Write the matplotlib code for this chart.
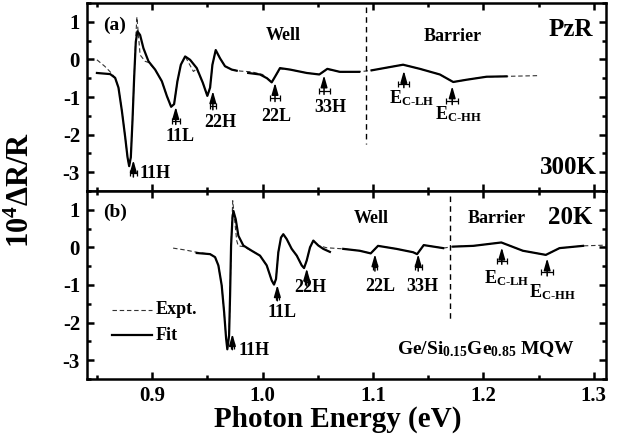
import matplotlib
matplotlib.use("Agg")
import matplotlib.pyplot as plt
from matplotlib.ticker import MultipleLocator

plt.rcParams['font.family'] = 'Liberation Serif'
plt.rcParams['font.weight'] = 'bold'
plt.rcParams['mathtext.fontset'] = 'custom'
plt.rcParams['mathtext.rm'] = 'Liberation Serif:bold'
plt.rcParams['mathtext.it'] = 'Liberation Serif:bold'
plt.rcParams['mathtext.bf'] = 'Liberation Serif:bold'
plt.rcParams['axes.unicode_minus'] = False

# ---- panel (a) 300K ----
fit_a_x = [[0.850, 0.862, 0.8665, 0.8695, 0.8726, 0.8756, 0.8777, 0.8792, 0.8807, 0.8822, 0.8837,
            0.8852, 0.8867, 0.8891, 0.8921, 0.8967, 0.9027, 0.9088, 0.9133, 0.9172, 0.9199, 0.9229,
            0.926, 0.9299, 0.9344, 0.9404, 0.9459, 0.950, 0.9525, 0.9546, 0.9576, 0.9615, 0.966,
            0.9721, 0.9766],
           [0.987, 0.9977, 1.004, 1.0083, 1.0115, 1.0158, 1.025, 1.040, 1.0514, 1.0587, 1.070, 1.0876],
           [1.0988, 1.112, 1.1273, 1.1425, 1.1606, 1.1727, 1.1848, 1.2029, 1.221]]
fit_a_y = [[-0.36, -0.39, -0.49, -0.75, -1.37, -2.07, -2.6, -2.84, -2.6, -1.63, -0.49,
            0.47, 0.75, 0.65, 0.30, -0.05, -0.27, -0.58, -0.97, -1.26, -1.19, -0.58,
            -0.14, 0.08, -0.01, -0.23, -0.62, -0.97, -0.75, -0.14, 0.25, 0.03, -0.18,
            -0.27, -0.30],
           [-0.36, -0.40, -0.50, -0.61, -0.45, -0.23, -0.27, -0.36, -0.40, -0.25, -0.33, -0.33],
           [-0.29, -0.22, -0.14, -0.25, -0.40, -0.60, -0.54, -0.46, -0.45]]
exp_a_x = [0.850, 0.857, 0.862, 0.8665, 0.8695, 0.8726, 0.8756, 0.8777, 0.8792, 0.8807, 0.8822,
           0.8837, 0.8852, 0.8862, 0.8891, 0.8937, 0.8967, 0.9027, 0.9088, 0.9133, 0.9172, 0.9199,
           0.9229, 0.926, 0.9299, 0.9374, 0.9404, 0.9459, 0.950, 0.9525, 0.9546, 0.9576, 0.9615,
           0.966, 0.9721, 0.98, 0.99, 1.0, 1.0083, 1.0158, 1.025, 1.040, 1.0514, 1.0587, 1.070,
           1.09, 1.0988, 1.1273, 1.1425, 1.1606, 1.1727, 1.1848, 1.2029, 1.221, 1.251]
exp_a_y = [-0.01, -0.18, -0.33, -0.49, -0.75, -1.37, -2.07, -2.6, -2.84, -2.6, -1.63,
           -0.49, 0.6, 1.13, 0.12, -0.05, -0.08, -0.27, -0.58, -0.97, -1.26, -1.19,
           -0.58, -0.14, 0.08, -0.32, -0.25, -0.62, -0.97, -0.75, -0.14, 0.25, 0.03,
           -0.18, -0.27, -0.31, -0.33, -0.40, -0.60, -0.25, -0.27, -0.36, -0.40, -0.26, -0.33,
           -0.32, -0.29, -0.14, -0.25, -0.40, -0.60, -0.54, -0.46, -0.45, -0.43]

# markers: x, arrow tip y, error-bar y, x error
mk_a_x = [0.883, 0.9214, 0.955, 1.0113, 1.0557, 1.128, 1.1718]
mk_a_tip = [-2.68, -1.26, -0.84, -0.62, -0.42, -0.30, -0.71]
mk_a_err = [-3.03, -1.63, -1.24, -1.02, -0.83, -0.65, -1.10]
mk_a_dx = [0.003, 0.0035, 0.003, 0.0045, 0.005, 0.005, 0.0053]

# ---- panel (b) 20K ----
fit_b_x = [[0.9404, 0.9525, 0.957, 0.960, 0.963, 0.9652, 0.967, 0.9681, 0.9697, 0.9706, 0.9715,
            0.9727, 0.9736, 0.9757, 0.9781, 0.9826, 0.9902, 0.9977, 1.0038, 1.0083, 1.0104, 1.0122,
            1.0143, 1.0167, 1.0188, 1.0219, 1.0264, 1.031, 1.0355, 1.0376, 1.04, 1.043, 1.046,
            1.0505, 1.055, 1.061],
           [1.0731, 1.088, 1.098, 1.1046, 1.1213, 1.1364, 1.140, 1.146, 1.1636],
           [1.1727, 1.1908, 1.2163, 1.2358, 1.2566, 1.269, 1.2903]]
fit_b_y = [[-0.15, -0.18, -0.26, -0.48, -1.01, -1.72, -2.42, -2.71, -2.34, -1.28, 0.04,
            0.75, 0.97, 0.75, 0.31, 0.05, -0.09, -0.22, -0.48, -0.88, -0.99, -0.84,
            -0.13, 0.26, 0.35, 0.22, -0.04, -0.22, -0.48, -0.55, -0.35, 0.0, 0.18,
            0.05, -0.04, -0.12],
           [-0.04, -0.09, -0.16, 0.04, -0.04, -0.13, -0.18, 0.06, -0.02],
           [0.02, 0.04, 0.13, -0.09, -0.20, -0.02, 0.04]]
exp_b_x = [0.919, 0.930, 0.9404, 0.9525, 0.957, 0.960, 0.963, 0.9652, 0.967, 0.9681, 0.9697,
           0.9706, 0.9715, 0.973, 0.9766, 0.978, 0.9826, 0.9902, 0.9977, 1.0038, 1.0083, 1.0104,
           1.0122, 1.0143, 1.0167, 1.0188, 1.0219, 1.0264, 1.031, 1.0355, 1.0376, 1.04, 1.043,
           1.046, 1.0505, 1.058, 1.0731, 1.088, 1.098, 1.1046, 1.1213, 1.1364, 1.140, 1.146,
           1.1636, 1.1727, 1.1908, 1.2163, 1.2358, 1.2566, 1.269, 1.2903, 1.312]
exp_b_y = [-0.02, -0.07, -0.13, -0.18, -0.26, -0.48, -1.01, -1.72, -2.42, -2.71, -2.34,
           -1.28, 0.04, 1.24, 0.18, 0.04, 0.02, -0.09, -0.22, -0.48, -0.88, -0.99,
           -0.84, -0.13, 0.26, 0.35, 0.22, -0.04, -0.22, -0.48, -0.55, -0.35, 0.0,
           0.18, 0.05, -0.01, -0.04, -0.09, -0.16, 0.04, -0.04, -0.13, -0.18, 0.06,
           -0.02, 0.02, 0.04, 0.13, -0.09, -0.20, -0.02, 0.04, 0.06]

mk_b_x = [0.9727, 1.0134, 1.04, 1.1018, 1.141, 1.2167, 1.2578]
mk_b_tip = [-2.3, -1.0, -0.56, -0.18, -0.18, 0.0, -0.29]
mk_b_err = [-2.62, -1.32, -0.93, -0.53, -0.53, -0.35, -0.66]
mk_b_dx = [0.0015, 0.0015, 0.0015, 0.002, 0.003, 0.0045, 0.0055]

fig = plt.figure(figsize=(6.17, 4.42), dpi=100)
ax1 = fig.add_axes([0.141, 0.568, 0.841, 0.425])
ax2 = fig.add_axes([0.141, 0.1425, 0.841, 0.4255])


def style(ax, labels):
    ax.set_xlim(0.841, 1.311)
    ax.set_ylim(-3.5, 1.5)
    ax.xaxis.set_minor_locator(MultipleLocator(0.05))
    ax.yaxis.set_minor_locator(MultipleLocator(0.5))
    ax.tick_params(which='both', direction='in', top=True, right=True, width=1.8,
                   labelsize=15, pad=5)
    ax.tick_params(which='major', length=5)
    ax.tick_params(which='minor', length=3)
    for s in ax.spines.values():
        s.set_linewidth(1.8)
    ax.set_xticks([0.9, 1.0, 1.1, 1.2, 1.3])
    ax.set_xticklabels(['0.9', '1.0', '1.1', '1.2', '1.3'])
    ax.set_yticks([-3, -2, -1, 0, 1])
    ax.set_yticklabels(['-3', '-2', '-1', '0', '1'])
    if not labels:
        ax.tick_params(labelbottom=False)


def markers(ax, xs, tips, errs, dxs):
    for x, t, e, d in zip(xs, tips, errs, dxs):
        ax.annotate('', xy=(x, t), xytext=(x, e - 0.1),
                    arrowprops=dict(arrowstyle='-|>,head_length=0.7,head_width=0.2',
                                    color='black', lw=1.1, shrinkA=0, shrinkB=0))
        ax.errorbar(x, e, xerr=d, fmt='none', ecolor='black', elinewidth=0.9,
                    capsize=2.2, capthick=0.9)


for ax, fx, fy, ex, ey in [(ax1, fit_a_x, fit_a_y, exp_a_x, exp_a_y),
                           (ax2, fit_b_x, fit_b_y, exp_b_x, exp_b_y)]:
    ax.plot(ex, ey, color='#333333', lw=0.8, ls=(0, (4, 2.5)))
    for xs, ys in zip(fx, fy):
        ax.plot(xs, ys, color='black', lw=1.6, solid_joinstyle='round')

style(ax1, False)
style(ax2, True)

markers(ax1, mk_a_x, mk_a_tip, mk_a_err, mk_a_dx)
markers(ax2, mk_b_x, mk_b_tip, mk_b_err, mk_b_dx)

vd = dict(color='black', lw=1.0, ls=(0, (4, 3)))
ax1.plot([1.094, 1.094], [1.4, -2.25], **vd)
ax2.plot([1.1697, 1.1697], [1.37, -1.9], **vd)

fs = 13
ax1.text(0.866, 0.92, '(a)', fontsize=14, ha='center', va='center')
ax1.text(0.889, -3.03, '11H', fontsize=fs, ha='left', va='center')
ax1.text(0.925, -2.05, '11L', fontsize=fs, ha='center', va='center')
ax1.text(0.9615, -1.68, '22H', fontsize=fs, ha='center', va='center')
ax1.text(1.0128, -1.53, '22L', fontsize=fs, ha='center', va='center')
ax1.text(1.061, -1.29, '33H', fontsize=fs, ha='center', va='center')
ax1.text(1.135, -1.02, r'E$_{\text{C-LH}}$', fontsize=fs, ha='center', va='center')
ax1.text(1.177, -1.45, r'E$_{\text{C-HH}}$', fontsize=fs, ha='center', va='center')
ax1.text(1.0187, 0.65, 'Well', fontsize=fs, ha='center', va='center')
ax1.text(1.172, 0.6, 'Barrier', fontsize=fs, ha='center', va='center')
ax1.text(1.299, 0.8, 'PzR', fontsize=18, ha='right', va='center')
ax1.text(1.303, -2.87, '300K', fontsize=18, ha='right', va='center')

ax2.text(0.866, 0.93, '(b)', fontsize=14, ha='center', va='center')
ax2.text(0.978, -2.73, '11H', fontsize=fs, ha='left', va='center')
ax2.text(1.0174, -1.72, '11L', fontsize=fs, ha='center', va='center')
ax2.text(1.043, -1.08, '22H', fontsize=fs, ha='center', va='center')
ax2.text(1.1063, -1.03, '22L', fontsize=fs, ha='center', va='center')
ax2.text(1.145, -1.03, '33H', fontsize=fs, ha='center', va='center')
ax2.text(1.221, -0.83, r'E$_{\text{C-LH}}$', fontsize=fs, ha='center', va='center')
ax2.text(1.263, -1.19, r'E$_{\text{C-HH}}$', fontsize=fs, ha='center', va='center')
ax2.text(1.0988, 0.76, 'Well', fontsize=fs, ha='center', va='center')
ax2.text(1.212, 0.76, 'Barrier', fontsize=fs, ha='center', va='center')
ax2.text(1.299, 0.8, '20K', fontsize=18, ha='right', va='center')
ax2.text(1.2027, -2.69, r'Ge/Si$_{0.15}$Ge$_{0.85}$ MQW', fontsize=14, ha='center', va='center')

# legend drawn by hand as in the original
ax2.plot([0.864, 0.9], [-1.66, -1.66], color='#333333', lw=0.8, ls=(0, (4, 2.5)))
ax2.plot([0.864, 0.9], [-2.34, -2.34], color='black', lw=1.6)
ax2.text(0.903, -1.66, 'Expt.', fontsize=fs, ha='left', va='center')
ax2.text(0.903, -2.34, 'Fit', fontsize=fs, ha='left', va='center')

fig.text(0.034, 0.57, r'10$^{4}$ΔR/R', fontsize=22, rotation=90, ha='center', va='center')
fig.text(0.548, 0.052, 'Photon Energy (eV)', fontsize=21, ha='center', va='center')

fig.savefig('out.png', dpi=100)
